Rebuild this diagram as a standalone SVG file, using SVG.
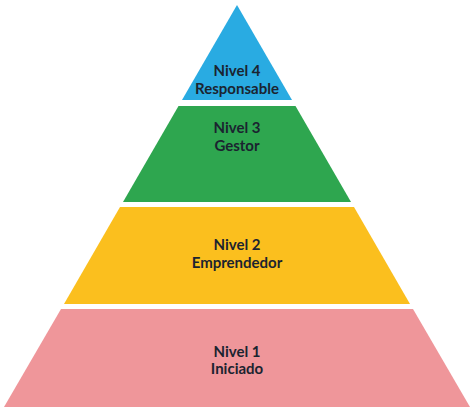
<svg xmlns="http://www.w3.org/2000/svg" width="474" height="410" viewBox="0 0 474 410">
<style>
.t{font-family:"Lato","Open Sans",sans-serif;font-weight:700;font-size:15px;fill:#1b2430;text-anchor:middle}
</style>
<rect width="474" height="410" fill="#ffffff"/>
<g id="nivel4">
<polygon points="237,5 292,100 182,100" fill="#29ABE2"/>
<text class="t" x="237" y="76">Nivel 4</text>
<text class="t" x="237" y="94">Responsable</text>
</g>
<g id="nivel3">
<polygon points="178.5,106 295.5,106 351,202 123,202" fill="#2EA64F"/>
<text class="t" x="237" y="133">Nivel 3</text>
<text class="t" x="237" y="151">Gestor</text>
</g>
<g id="nivel2">
<polygon points="120,207 354,207 410,304 64,304" fill="#FBBF1E"/>
<text class="t" x="237" y="250">Nivel 2</text>
<text class="t" x="237" y="268">Emprendedor</text>
</g>
<g id="nivel1">
<polygon points="61,309 413,309 470,407 4,407" fill="#EF969A"/>
<text class="t" x="237" y="357">Nivel 1</text>
<text class="t" x="237" y="374">Iniciado</text>
</g>
<g id="connectors"></g>
</svg>
